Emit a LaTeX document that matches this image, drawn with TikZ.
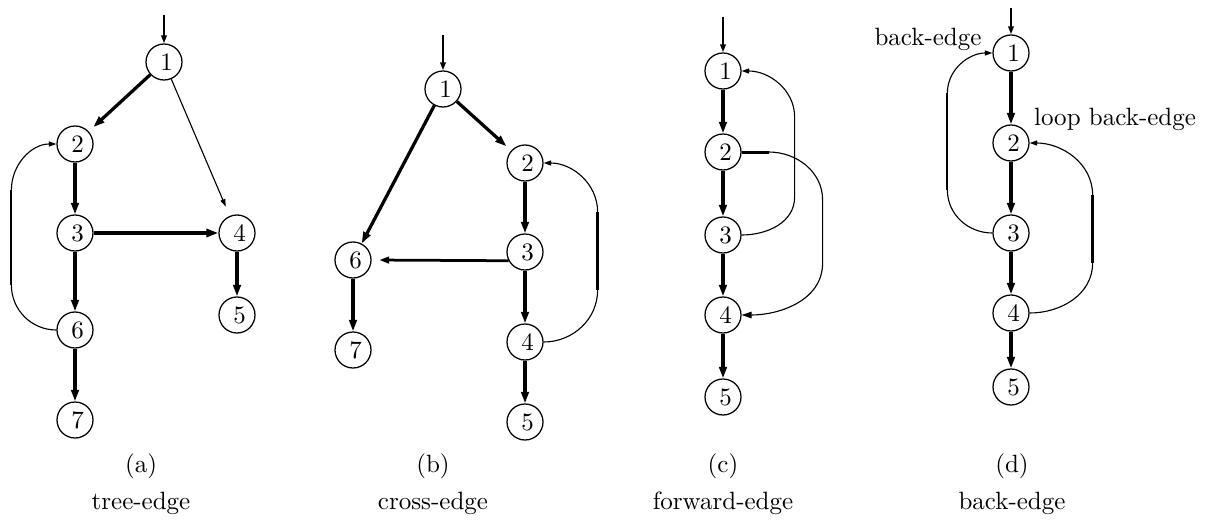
\documentclass[tikz,border=0pt]{standalone}
\usepackage{tikz}
\usetikzlibrary{arrows.meta,positioning,calc}

\begin{document}
\begin{tikzpicture}[
    x=0.4pt, y=0.4pt,
    vtx/.style={
        circle, draw=black, line width=0.5pt,
        minimum size=14.4pt, inner sep=0pt,
        execute at begin node={\hspace*{2pt}}
    },
    tree/.style={-{Triangle[length=4.6pt,width=3pt]}, line width=1.3pt},
    heavy/.style={-{Triangle[length=4.8pt,width=3.2pt]}, line width=1.7pt},
    cross/.style={-{Triangle[length=4pt,width=2.6pt]}, line width=1.1pt},
    thinarr/.style={-{Triangle[length=3pt,width=2pt]}, line width=0.45pt},
    fwdarr/.style={-{Triangle[length=4pt,width=2.6pt]}, line width=0.45pt},
    entry/.style={-{Triangle[length=3.2pt,width=2.2pt]}, line width=0.8pt},
    midseg/.style={line width=0.8pt},
    boldseg/.style={line width=1.2pt},
]
\useasboundingbox (0,0) rectangle (1208,-520);

% (a) tree-edge
\node[vtx] (a1) at (164,-62) {1};
\node[vtx] (a2) at (75,-144) {2};
\node[vtx] (a3) at (75,-233) {3};
\node[vtx] (a4) at (237,-233) {4};
\node[vtx] (a5) at (237,-315) {5};
\node[vtx] (a6) at (75,-330) {6};
\node[vtx] (a7) at (75,-420) {7};
\coordinate (a0) at (164,-15);
\draw[entry] (a0) -- (a1);
\foreach \a/\b in {a2/a3, a3/a6, a6/a7, a4/a5}
  \draw[tree] (\a) -- (\b);
\draw[tree, shorten >=2.5pt] (a1) -- (a2);
\draw[heavy] (a3) -- (a4);
\draw[thinarr, shorten >=4pt] (a1) -- (a4);
\draw[thinarr] (a6.west) to[out=180,in=-90] ++(-45,45) coordinate (a62s)
  -- ++(0,95) coordinate (a62e) to[out=90,in=180] (a2.west);
\draw[midseg] (a62s) -- (a62e);
\node (capa) at (141,-466) {(a)};
\node (namea) at (141,-503) {tree-edge};

% (b) cross-edge
\node[vtx] (b1) at (443,-89) {1};
\node[vtx] (b2) at (525,-163) {2};
\node[vtx] (b3) at (525,-252) {3};
\node[vtx] (b4) at (525,-342) {4};
\node[vtx] (b5) at (525,-422) {5};
\node[vtx] (b6) at (353,-260) {6};
\node[vtx] (b7) at (353,-350) {7};
\coordinate (b0) at (443,-35);
\draw[entry] (b0) -- (b1);
\foreach \a/\b in {b1/b6, b2/b3, b3/b4, b4/b5, b6/b7}
  \draw[tree] (\a) -- (\b);
\draw[tree, shorten >=2.5pt] (b1) -- (b2);
\draw[cross, shorten >=3pt] (b3.208) -- (b6.east);
\draw[thinarr] (b4.east) to[out=0,in=-90] ++(54,52) coordinate (b42s)
  -- ++(0,78) coordinate (b42e) to[out=90,in=0] (b2.east);
\draw[boldseg] (b42s) -- (b42e);
\node (capb) at (433,-466) {(b)};
\node (nameb) at (433,-503) {cross-edge};

% (c) forward-edge
\node[vtx] (c1) at (723,-71) {1};
\node[vtx] (c2) at (723,-152) {2};
\node[vtx] (c3) at (723,-235) {3};
\node[vtx] (c4) at (723,-315) {4};
\node[vtx] (c5) at (723,-397) {5};
\coordinate (c0) at (723,-17);
\draw[entry] (c0) -- (c1);
\foreach \a/\b in {c1/c2, c2/c3, c3/c4, c4/c5}
  \draw[tree] (\a) -- (\b);
\draw[thinarr] (c3.east) to[out=0,in=-90] ++(53,38)
  -- ++(0,80) to[out=90,in=0] (c1.east);
\draw[fwdarr] (c2.east) -- ++(27,0) coordinate (c24s)
  to[out=0,in=90] ++(54,-48) -- ++(0,-63) to[out=-90,in=0] (c4.east);
\draw[boldseg] (c2.east) -- (c24s);
\node (capc) at (723,-466) {(c)};
\node (namec) at (723,-503) {forward-edge};

% (d) back-edge
\node[vtx] (d1) at (1011,-53) {1};
\node[vtx] (d2) at (1011,-143) {2};
\node[vtx] (d3) at (1011,-233) {3};
\node[vtx] (d4) at (1011,-313) {4};
\node[vtx] (d5) at (1011,-387) {5};
\coordinate (d0) at (1011,-8);
\draw[entry] (d0) -- (d1);
\foreach \a/\b in {d1/d2, d2/d3, d3/d4, d4/d5}
  \draw[tree] (\a) -- (\b);
\draw[thinarr] (d3.west) to[out=180,in=-90] ++(-45,43) coordinate (d31s)
  -- ++(0,97) coordinate (d31e) to[out=90,in=180] (d1.west);
\draw[midseg] (d31s) -- (d31e);
\draw[thinarr] (d4.east) to[out=0,in=-90] ++(63,50) coordinate (d42s)
  -- ++(0,68) coordinate (d42e) to[out=90,in=0] (d2.east);
\draw[boldseg] (d42s) -- (d42e);
\node (lblback) at (928,-39) {back-edge};
\node (lblloop) at (1115,-119) {loop back-edge};
\node (capd) at (1012,-466) {(d)};
\node (named) at (1012,-503) {back-edge};

\end{tikzpicture}
\end{document}
